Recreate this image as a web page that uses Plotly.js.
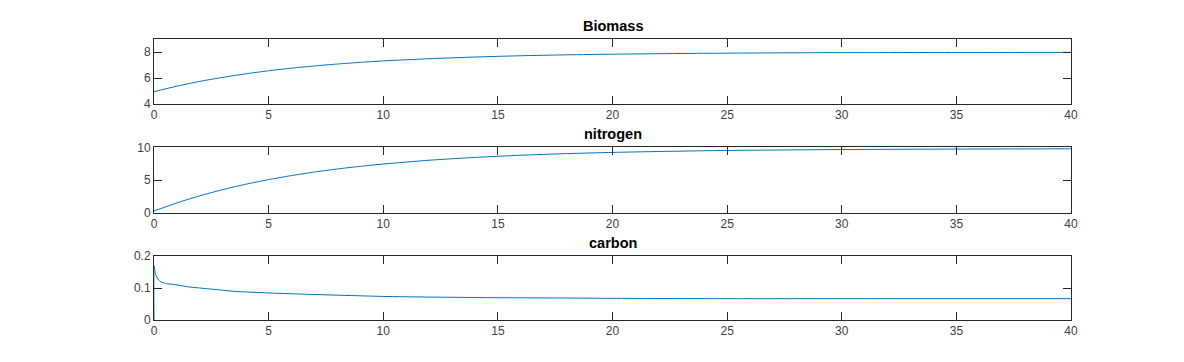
<!DOCTYPE html>
<html>
<head>
<meta charset="utf-8">
<script src="https://cdn.plot.ly/plotly-3.0.1.min.js"></script>
<style>html,body{margin:0;padding:0;background:#fff;}#chart{width:1184px;height:362px;}</style>
</head>
<body>
<div id="chart"></div>
<script>
// Time points (days)
const tBio = [0, 1, 2, 3, 4, 5, 6, 7, 8, 9, 10, 12, 14, 16, 18, 20, 22, 25, 28, 30, 35, 40];
const biomass = [4.95, 5.38, 5.75, 6.06, 6.33, 6.57, 6.77, 6.94, 7.09, 7.22, 7.33, 7.50, 7.63, 7.73, 7.80, 7.85, 7.89, 7.93, 7.96, 7.97, 7.98, 7.99];

const tNit = [0, 1, 2, 3, 4, 5, 6, 7, 8, 9, 10, 12, 14, 16, 18, 20, 22, 25, 28, 30, 35, 40];
const nitrogen = [0.3, 1.54, 2.62, 3.56, 4.38, 5.08, 5.70, 6.24, 6.70, 7.10, 7.45, 8.03, 8.46, 8.79, 9.04, 9.22, 9.36, 9.52, 9.61, 9.66, 9.73, 9.77];

const tCar = [0, 0.005, 0.05, 0.1, 0.2, 0.3, 0.5, 1, 1.5, 2.5, 3.5, 5, 7, 9, 10, 12, 15, 18, 20, 25, 30, 40];
const carbon = [0, 0.170, 0.150, 0.138, 0.126, 0.120, 0.115, 0.110, 0.104, 0.097, 0.090, 0.085, 0.080, 0.076, 0.074, 0.072, 0.070, 0.069, 0.068, 0.067, 0.067, 0.067];

const titles = ["Biomass", "nitrogen", "carbon"];
const xTicks = [0, 5, 10, 15, 20, 25, 30, 35, 40];
const yTicks = [[4, 6, 8], [0, 5, 10], [0, 0.1, 0.2]];
const yRanges = [[4, 9], [0, 10], [0, 0.2]];

const lineColor = '#0072BD';
const axColor = '#262626';
const xs = [tBio, tNit, tCar];
const ys = [biomass, nitrogen, carbon];

const domains = [[0.7127, 0.8914], [0.4116, 0.5931], [0.1160, 0.2920]];
const xDomain = [154/1184, 1071/1184];

const traces = [];
const layout = {
  width: 1184, height: 362,
  margin: {l: 0, r: 0, t: 0, b: 0},
  paper_bgcolor: '#fff', plot_bgcolor: '#fff',
  showlegend: false,
  font: {family: 'Liberation Sans, Arial, sans-serif', size: 12, color: axColor},
  annotations: []
};

for (let i = 0; i < 3; i++) {
  const sfx = i === 0 ? '' : String(i + 1);
  traces.push({
    x: xs[i], y: ys[i], type: 'scatter', mode: 'lines',
    line: {color: lineColor, width: 1, shape: 'spline', smoothing: 0.6},
    xaxis: 'x' + sfx, yaxis: 'y' + sfx, hoverinfo: 'skip'
  });
  const common = {
    showline: true, mirror: 'allticks', linecolor: axColor, linewidth: 1,
    ticks: 'inside', ticklen: 8, tickwidth: 1, tickcolor: axColor,
    showgrid: false, zeroline: false, fixedrange: true,
    tickfont: {family: 'Liberation Sans, Arial, sans-serif', size: 12, color: '#404040'}
  };
  layout['xaxis' + sfx] = Object.assign({}, common, {
    domain: xDomain, range: [0, 40], tickvals: xTicks, ticktext: xTicks.map(String),
    anchor: 'y' + sfx
  });
  layout['yaxis' + sfx] = Object.assign({}, common, {
    domain: domains[i], range: yRanges[i], tickvals: yTicks[i], ticktext: yTicks[i].map(String),
    anchor: 'x' + sfx
  });
  layout.annotations.push({
    text: '<b>' + titles[i] + '</b>', xref: 'paper', yref: 'paper',
    x: (xDomain[0] + xDomain[1]) / 2, y: domains[i][1], yshift: 3,
    xanchor: 'center', yanchor: 'bottom', showarrow: false,
    font: {family: 'Liberation Sans, Arial, sans-serif', size: 14.5, color: '#000'}
  });
}

Plotly.newPlot('chart', traces, layout, {displayModeBar: false, staticPlot: true});
</script>
</body>
</html>
